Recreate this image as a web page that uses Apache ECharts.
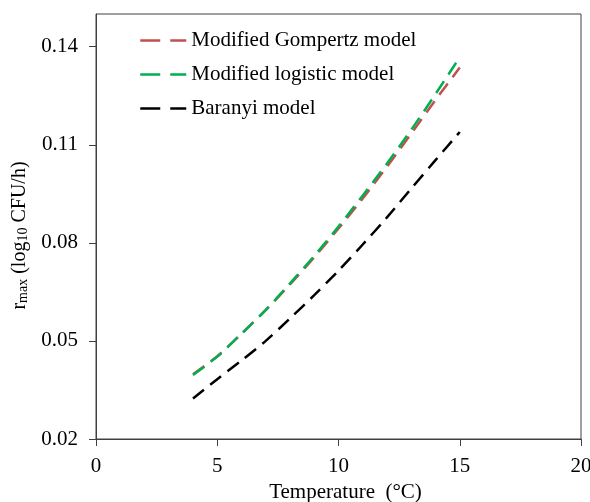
<!DOCTYPE html>
<html>
<head>
<meta charset="utf-8">
<script src="https://cdn.jsdelivr.net/npm/echarts@6/dist/echarts.min.js"></script>
<style>html,body{margin:0;padding:0;background:#fff}#c{width:590px;height:502px}</style>
</head>
<body>
<div id="c"></div>
<script>
const temperature = [4, 5, 6, 7, 8, 9, 10, 11, 12, 13, 14, 15];
const gompertz = [0.0398, 0.0453, 0.0522, 0.0594, 0.0673, 0.0756, 0.0844, 0.0936, 0.1033, 0.1134, 0.1237, 0.1336];
const logistic = [0.0396, 0.0452, 0.0522, 0.0595, 0.0676, 0.0760, 0.0850, 0.0945, 0.1043, 0.1146, 0.1255, 0.1368];
const baranyi = [0.0324, 0.0383, 0.0440, 0.0500, 0.0569, 0.0640, 0.0715, 0.0795, 0.0878, 0.0966, 0.1053, 0.1139];
const yTicks = [0.02, 0.05, 0.08, 0.11, 0.14];
const xTicks = [0, 5, 10, 15, 20];
const seriesNames = ['Modified Gompertz model', 'Modified logistic model', 'Baranyi model'];

const font = 'Liberation Serif';
const pair = (xs, ys) => xs.map((x, i) => [x, ys[i]]);
const chart = echarts.init(document.getElementById('c'), null, {renderer: 'canvas'});
chart.setOption({
  animation: false,
  backgroundColor: '#fff',
  grid: {left: 96, right: 9, top: 14, bottom: 63, show: true, borderColor: '#404040', borderWidth: 1,
         containLabel: false, outerBoundsMode: 'none'},
  legend: {
    left: 139, top: 30, orient: 'vertical', padding: 0,
    itemWidth: 46, itemHeight: 20, itemGap: 13,
    textStyle: {fontFamily: font, fontSize: 21, color: '#000'},
    itemStyle: {opacity: 0, borderWidth: 0},
    lineStyle: {type: [20, 10], width: 2.5},
    data: seriesNames
  },
  xAxis: {
    type: 'value', min: 0, max: 20, interval: 5,
    name: 'Temperature  (°C)', nameLocation: 'middle', nameGap: 43,
    nameTextStyle: {fontFamily: font, fontSize: 21, color: '#000', padding: [0, 0, 0, 14]},
    axisLine: {lineStyle: {color: '#404040', width: 1}},
    axisTick: {show: true, inside: false, length: 7, lineStyle: {color: '#404040'}, customValues: xTicks},
    axisLabel: {fontFamily: font, fontSize: 21, color: '#000', margin: 17, customValues: xTicks},
    splitLine: {show: false}
  },
  yAxis: {
    type: 'value', min: 0.02, max: 0.15, interval: 0.03,
    name: '{n|r}{s|max}{n| (log}{s|10}{n| CFU/h)}', nameLocation: 'middle', nameGap: 53, nameRotate: 90,
    nameTextStyle: {fontFamily: font, fontSize: 20, color: '#000', padding: [0, 18, 0, 0],
      rich: {n: {fontFamily: font, fontSize: 20, color: '#000'}, s: {fontFamily: font, fontSize: 14, color: '#000', verticalAlign: 'bottom', padding: [8, 0, 0, 0]}}},
    axisLine: {show: true, lineStyle: {color: '#404040', width: 1}},
    axisTick: {show: true, inside: false, length: 7, lineStyle: {color: '#404040'}, customValues: yTicks},
    axisLabel: {fontFamily: font, fontSize: 21, color: '#000', margin: 18, customValues: yTicks, formatter: v => v.toFixed(2)},
    splitLine: {show: false}
  },
  series: [
    {name: seriesNames[0], type: 'line', data: pair(temperature, gompertz), smooth: 0.3, symbol: 'none', z: 2,
     lineStyle: {color: '#c0504d', width: 2.5, type: [14, 8]}, itemStyle: {color: '#c0504d'}},
    {name: seriesNames[1], type: 'line', data: pair(temperature, logistic), smooth: 0.3, symbol: 'none', z: 3,
     lineStyle: {color: '#00b050', width: 2.5, type: [14, 8]}, itemStyle: {color: '#00b050'}},
    {name: seriesNames[2], type: 'line', data: pair(temperature, baranyi), smooth: 0.3, symbol: 'none', z: 2,
     lineStyle: {color: '#000', width: 2.5, type: [14, 8]}, itemStyle: {color: '#000'}}
  ]
});
</script>
</body>
</html>
